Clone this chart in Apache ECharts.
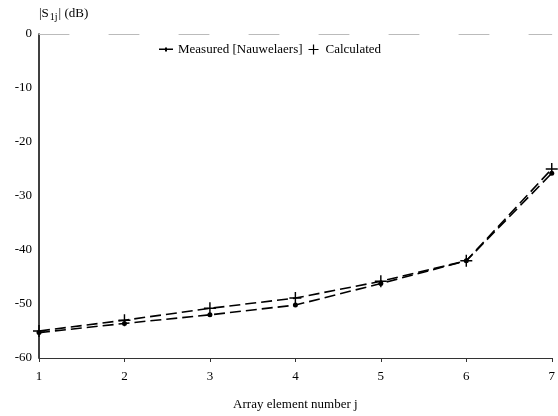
<!DOCTYPE html>
<html><head><meta charset="utf-8">
<script src="https://cdn.jsdelivr.net/npm/echarts@6/dist/echarts.min.js"></script>
<style>html,body{margin:0;padding:0;background:#fff}#c{width:558px;height:416px}</style>
</head><body><div id="c"></div>
<script>
var elements = [1, 2, 3, 4, 5, 6, 7];
var measured = [-55.3, -53.6, -52.0, -50.2, -46.2, -42.0, -25.8];
var calculated = [-55.0, -53.0, -50.8, -48.9, -45.8, -42.0, -25.0];
var yTicks = [0, -10, -20, -30, -40, -50, -60];

var chart = echarts.init(document.getElementById('c'));
var font = 'Liberation Serif';
function pairs(v){ return elements.map(function(x,i){ return [x, v[i]]; }); }
var plus = 'path://M4.4,0h1.2v4.4h4.4v1.2h-4.4v4.4h-1.2v-4.4h-4.4v-1.2h4.4z';
var lineIcon = 'path://M0,4h14v1.6h-14zM6,3h2v4h-2z';
chart.setOption({
  animation: false,
  backgroundColor: '#fff',
  textStyle: {fontFamily: font, color: '#000'},
  grid: {left: 39, right: 0, top: 34, bottom: 58, containLabel: false},
  legend: {
    top: 38, left: 154, itemGap: 6, itemWidth: 14, itemHeight: 10,
    textStyle: {fontFamily: font, fontSize: 13, color: '#000'},
    data: [{name: 'Measured [Nauwelaers]', icon: lineIcon, itemStyle:{color:'#000'}},
           {name: 'Calculated', icon: plus}]
  },
  xAxis: [{
    type: 'value', min: 1, max: 7, interval: 1,
    name: 'Array element number j', nameLocation: 'middle', nameGap: 40,
    nameTextStyle: {fontFamily: font, fontSize: 13, color: '#000'},
    axisLine: {onZero: false, lineStyle: {color: '#333', width: 1}},
    axisTick: {show: true, length: 4, lineStyle:{color:'#333'}},
    axisLabel: {fontFamily: font, fontSize: 13, color: '#000', margin: 12},
    splitLine: {show: false}
  }, {
    type: 'value', min: 1, max: 7, position: 'top',
    axisLine: {show: true, lineStyle: {color: '#bbb', type: [30, 40], width: 1}},
    axisTick: {show: false}, axisLabel: {show: false}, splitLine: {show: false}
  }],
  yAxis: {
    type: 'value', min: -60, max: 0, interval: 10,
    name: '{a||S}{s|1j}{a|| (dB)}', nameLocation: 'end', nameGap: 12,
    nameTextStyle: {fontFamily: font, fontSize: 13, color:'#000', align: 'left', padding:[0,0,0,0],
      rich: {a:{fontFamily: font, fontSize: 13, color:'#000'}, s:{fontFamily: font, fontSize: 10, color:'#000', verticalAlign:'bottom', padding:[6,1,0,1]}}},
    axisLine: {show: true, lineStyle: {color: '#000', width: 1.5}},
    axisTick: {show: false},
    axisLabel: {fontFamily: font, fontSize: 13, color: '#000', margin: 7},
    splitLine: {show: false}
  },
  series: [{
    name: 'Measured [Nauwelaers]', type: 'line', data: pairs(measured),
    symbol: 'circle', symbolSize: 5, itemStyle: {color: '#000'},
    lineStyle: {color: '#000', width: 1.6, type: [11, 5]}
  }, {
    name: 'Calculated', type: 'line', data: pairs(calculated),
    symbol: plus, symbolSize: 12, itemStyle: {color: '#000'},
    lineStyle: {color: '#000', width: 1.6, type: [11, 5]}
  }]
});
</script></body></html>
